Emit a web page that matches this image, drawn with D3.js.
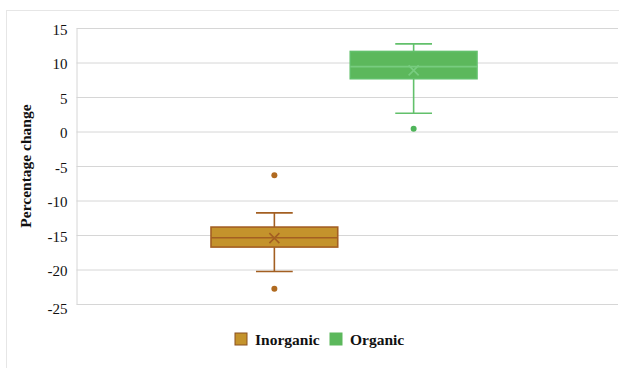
<!DOCTYPE html>
<html><head><meta charset="utf-8">
<script src="https://cdn.jsdelivr.net/npm/d3@7"></script>
<style>body{margin:0;background:#fff}svg{display:block}</style>
</head><body>
<svg id="c" width="619" height="368"></svg>
<script>
const series = ["Inorganic", "Organic"];
const q1 = [-16.75, 7.65];
const medians = [-15.4, 9.4];
const q3 = [-13.85, 11.6];
const whiskerLow = [-20.3, 2.65];
const whiskerHigh = [-11.8, 12.7];
const means = [-15.45, 8.85];
const outliers = [[-6.35, -22.8], [0.4]];
const yTicks = [15, 10, 5, 0, -5, -10, -15, -20, -25];
const fills = ["#c4932c", "#5cb85c"];
const strokes = ["#a35f22", "#62c06b"];
const medianStrokes = ["#a35f22", "#78cc80"];

(function () {
const svg = d3.select("#c");
const FONT = "'Liberation Serif', 'Times New Roman', serif";
const plotL = 76.5, plotR = 618, plotT = 28, plotB = 304;
const y = d3.scaleLinear().domain([-25, 15]).range([plotB, plotT]);
const x = d3.scaleBand().domain(series).range([211, 477]).paddingInner(0.09);

svg.append("rect").attr("x", 6.5).attr("y", 10.5).attr("width", 640).attr("height", 400)
  .attr("fill", "none").attr("stroke", "#e6e6e6");

const axis = d3.axisLeft(y).tickValues(yTicks).tickSize(-(plotR - plotL)).tickFormat(d => String(d));
const g = svg.append("g").attr("transform", `translate(${plotL},0)`).call(axis);
g.select(".domain").attr("stroke", "#d6d6d6");
g.selectAll(".tick line").attr("stroke", "#d6d6d6");
g.selectAll(".tick text").attr("x", -9).attr("dy", "0.4em")
  .attr("font-family", FONT).attr("font-size", 15).attr("fill", "#111");
g.selectAll(".tick").filter(d => d === -25).select("text").attr("dy", "0.6em");

svg.append("text").attr("transform", "translate(31,166) rotate(-90)").attr("text-anchor", "middle")
  .attr("font-family", FONT).attr("font-weight", "bold")
  .attr("font-size", 15.5).attr("fill", "#111").text("Percentage change");

series.forEach((s, i) => {
  const bx = x(s), bw = x.bandwidth(), cx = bx + bw / 2, cap = bw * 0.29;
  const gg = svg.append("g");
  gg.append("line").attr("x1", cx).attr("x2", cx).attr("y1", y(q3[i])).attr("y2", y(whiskerHigh[i]))
    .attr("stroke", strokes[i]).attr("stroke-width", 1.6);
  gg.append("line").attr("x1", cx).attr("x2", cx).attr("y1", y(q1[i])).attr("y2", y(whiskerLow[i]))
    .attr("stroke", strokes[i]).attr("stroke-width", 1.6);
  [whiskerHigh[i], whiskerLow[i]].forEach(v => {
    gg.append("line").attr("x1", cx - cap / 2).attr("x2", cx + cap / 2).attr("y1", y(v)).attr("y2", y(v))
      .attr("stroke", strokes[i]).attr("stroke-width", 1.6);
  });
  gg.append("rect").attr("x", bx).attr("y", y(q3[i])).attr("width", bw).attr("height", y(q1[i]) - y(q3[i]))
    .attr("fill", fills[i]).attr("stroke", strokes[i]).attr("stroke-width", 1.6);
  gg.append("line").attr("x1", bx).attr("x2", bx + bw).attr("y1", y(medians[i])).attr("y2", y(medians[i]))
    .attr("stroke", medianStrokes[i]).attr("stroke-width", 1.6);
  const m = y(means[i]), r = 5;
  gg.append("path").attr("d", `M${cx - r},${m - r}L${cx + r},${m + r}M${cx - r},${m + r}L${cx + r},${m - r}`)
    .attr("stroke", medianStrokes[i]).attr("stroke-width", 1.6).attr("fill", "none");
  outliers[i].forEach(v => {
    gg.append("circle").attr("cx", cx).attr("cy", y(v)).attr("r", 3).attr("fill", i === 0 ? "#b06a20" : "#4fb55a");
  });
});

const lg = svg.append("g").attr("font-family", FONT)
  .attr("font-weight", "bold").attr("font-size", 15.5).attr("fill", "#111");
const lx = [235, 330];
series.forEach((s, i) => {
  lg.append("rect").attr("x", lx[i]).attr("y", 333).attr("width", 12).attr("height", 12)
    .attr("fill", fills[i]).attr("stroke", i === 0 ? "#8a5020" : fills[i]);
  lg.append("text").attr("x", lx[i] + 20).attr("y", 345).text(s);
});
})();
</script>
</body></html>
